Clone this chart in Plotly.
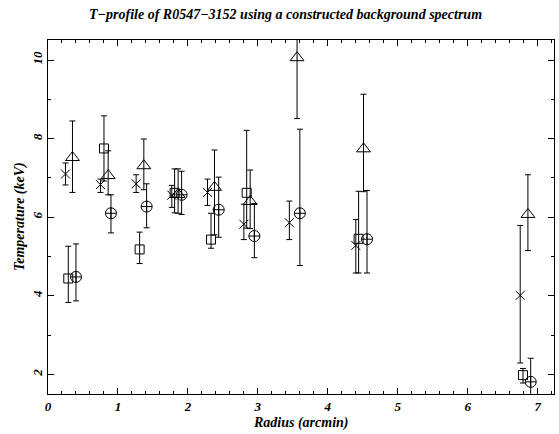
import plotly.graph_objects as go

# ---- data (radius in arcmin, temperature in keV, error bounds) ----
cross_r  = [0.25, 0.75, 1.26, 1.77, 2.28, 2.80, 3.45, 4.40, 6.75]
cross_T  = [7.10, 6.83, 6.85, 6.56, 6.63, 5.82, 5.86, 5.28, 4.01]
cross_hi = [7.38, 6.97, 7.08, 6.81, 6.97, 6.33, 6.41, 5.94, 5.79]
cross_lo = [6.82, 6.63, 6.63, 6.25, 6.30, 5.43, 5.43, 4.58, 2.29]

tri_r  = [0.35, 0.86, 1.37, 1.86, 2.38, 2.89, 3.56, 4.51, 6.86]
tri_T  = [7.52, 7.06, 7.31, 6.58, 6.76, 6.40, 10.06, 7.74, 6.07]
tri_hi = [8.45, 7.69, 7.99, 7.23, 7.71, 7.20, 11.60, 9.13, 7.08]
tri_lo = [6.63, 6.57, 6.70, 6.10, 5.55, 5.71, 8.51, 6.65, 5.15]

sq_r  = [0.29, 0.80, 1.31, 1.81, 2.33, 2.84, 4.44, 6.79]
sq_T  = [4.44, 7.75, 5.18, 6.62, 5.43, 6.62, 5.45, 1.98]
sq_hi = [5.26, 8.58, 5.62, 7.23, 6.10, 8.21, 6.66, 2.15]
sq_lo = [3.83, 6.92, 4.82, 6.11, 5.21, 5.72, 4.58, 1.78]

circ_r  = [0.40, 0.90, 1.41, 1.91, 2.44, 2.95, 3.60, 4.56, 6.90]
circ_T  = [4.48, 6.10, 6.27, 6.57, 6.19, 5.52, 6.10, 5.44, 1.81]
circ_hi = [5.32, 6.57, 6.85, 7.17, 7.02, 6.35, 8.24, 6.68, 2.41]
circ_lo = [3.87, 5.60, 5.73, 6.07, 5.49, 4.97, 4.77, 4.58, 1.20]

TITLE = "T\u2212profile of R0547\u22123152 using a constructed background spectrum"
XTITLE = "Radius (arcmin)"
YTITLE = "Temperature (keV)"

FONT = dict(family="Liberation Serif", color="black", style="italic", weight="bold")

fig = go.Figure()

def add(r, T, hi, lo, symbol, size):
    fig.add_trace(go.Scatter(
        x=r, y=T, mode="markers", showlegend=False,
        marker=dict(symbol=symbol, size=size, color="black",
                    line=dict(color="black", width=1)),
        error_y=dict(type="data", symmetric=False,
                     array=[h - t for h, t in zip(hi, T)],
                     arrayminus=[t - l for t, l in zip(T, lo)],
                     color="black", thickness=1, width=3),
    ))

add(cross_r, cross_T, cross_hi, cross_lo, "x-thin-open", 9)
add(tri_r, tri_T, tri_hi, tri_lo, "triangle-up-open", 12)
add(sq_r, sq_T, sq_hi, sq_lo, "square-open", 9)
add(circ_r, circ_T, circ_hi, circ_lo, "circle-cross-open", 11)

axis_common = dict(showline=True, linecolor="black", linewidth=1, mirror="allticks",
                   ticks="inside", ticklen=6, tickcolor="black", tickwidth=1,
                   showgrid=False, zeroline=False, automargin=False,
                   tickfont=dict(size=13, **FONT))

fig.update_xaxes(range=[0, 7.233], dtick=1, tick0=0,
                 minor=dict(dtick=0.2, ticks="inside", ticklen=3, tickcolor="black"),
                 **axis_common)
fig.update_yaxes(range=[1.5, 10.51], dtick=2, tick0=0, tickangle=-90,
                 minor=dict(dtick=1, ticks="inside", ticklen=3, tickcolor="black"),
                 **axis_common)

fig.update_layout(
    width=559, height=434,
    margin=dict(l=48, r=5, t=40, b=40),
    paper_bgcolor="white", plot_bgcolor="white",
    annotations=[
        dict(text=TITLE, xref="paper", yref="paper", x=0.47, y=1.0, yshift=26,
             showarrow=False, font=dict(size=14, **FONT), xanchor="center", yanchor="middle"),
        dict(text=XTITLE, xref="paper", yref="paper", x=0.5, y=0, yshift=-29,
             showarrow=False, font=dict(size=14, **FONT), xanchor="center", yanchor="middle"),
        dict(text=YTITLE, xref="paper", yref="paper", x=0, xshift=-28, y=0.5,
             textangle=-90, showarrow=False, font=dict(size=14, **FONT),
             xanchor="center", yanchor="middle"),
    ],
)

fig.write_html("out.html", config={"displayModeBar": False},
               post_script="document.body.style.margin='0';document.body.style.overflow='hidden';")
